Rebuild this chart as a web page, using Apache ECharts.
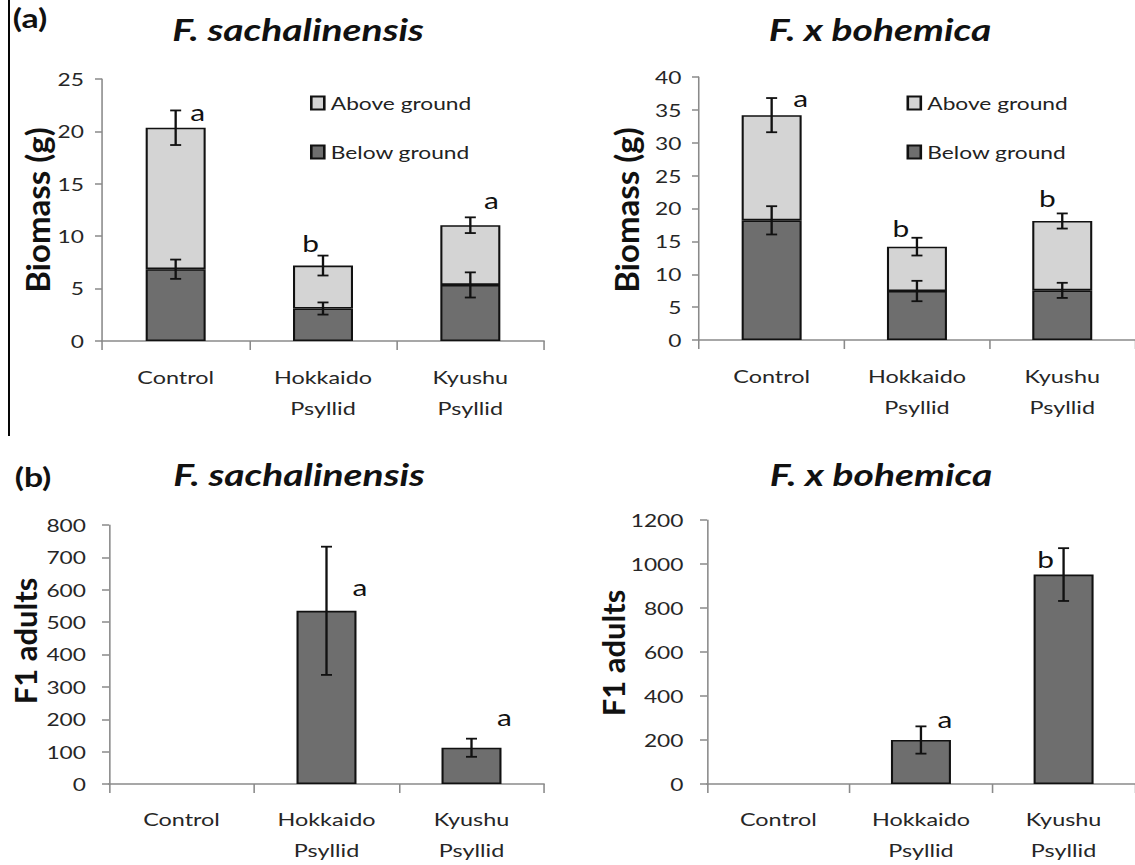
<!DOCTYPE html>
<html><head><meta charset="utf-8">
<script src="https://cdn.jsdelivr.net/npm/echarts@6/dist/echarts.min.js"></script>
<style>
html,body{margin:0;padding:0;background:#fff;overflow:hidden;width:1135px;height:865px}
#chart{width:873.077px;height:865px;transform:scaleX(1.3);transform-origin:0 0;}
</style>
</head><body><div id="chart"></div><script>
// ---------- data ----------
const categories = ['Control', 'Hokkaido\nPsyllid', 'Kyushu\nPsyllid'];
const legendNames = ['Above ground', 'Below ground'];
// (a) F. sachalinensis biomass (g)
const sachBelow = [6.85, 3.1, 5.35];
const sachBelowErr = [0.92, 0.58, 1.2];
const sachAbove = [13.5, 4.1, 5.7];
const sachAboveErr = [1.65, 0.95, 0.75];
const sachBiomassLetters = ['a', 'b', 'a'];
// (a) F. x bohemica biomass (g)
const bohBelow = [18.2, 7.45, 7.55];
const bohBelowErr = [2.15, 1.55, 1.15];
const bohAbove = [16.0, 6.75, 10.55];
const bohAboveErr = [2.6, 1.35, 1.15];
const bohBiomassLetters = ['a', 'b', 'b'];
// (b) F1 adults
const sachF1 = [null, 535, 112];
const sachF1Err = [null, 198, 28];
const sachF1Letters = [null, 'a', 'a'];
const bohF1 = [null, 200, 952];
const bohF1Err = [null, 62, 120];
const bohF1Letters = [null, 'a', 'b'];
// y axis scales [min, max, interval]
const sachBiomassScale = [0, 25, 5];
const bohBiomassScale = [0, 40, 5];
const sachF1Scale = [0, 800, 100];
const bohF1Scale = [0, 1200, 200];

// ---------- layout / style ----------
const S = 1.3;                 // horizontal stretch of the original figure
const sx = v => v / S;
const FONT = 'Lato';
const AXIS_GRAY = '#8a8a8a';
const TXT = '#262626';
const DARK = '#6e6e6e', LIGHT = '#d4d4d4', EDGE = '#111';
// letter offsets (screen px) relative to top of error bar
const offA1 = [[22, 2], [-12.5, -12], [21, -17]];
const offA2 = [[29, 0], [-16, -9], [-15, -15]];
const offB1 = [null, [33.5, 41], [33, -21]];
const offB2 = [null, [24, -7], [-18, 11]];

const sachTotal = sachBelow.map((b, i) => b + sachAbove[i]);
const bohTotal = bohBelow.map((b, i) => b + bohAbove[i]);

const grids = [
  { left: sx(102), width: sx(442), top: 79, height: 262 },
  { left: sx(699), width: sx(442), top: 77, height: 263 },
  { left: sx(109), width: sx(435), top: 525, height: 262 },
  { left: sx(707), width: sx(432), top: 520, height: 266 }
];

function xAxisCfg(gi, margin) {
  return {
    type: 'category', gridIndex: gi, data: categories, boundaryGap: true,
    axisLine: { lineStyle: { color: AXIS_GRAY, width: 1.5 } },
    axisTick: { show: true, alignWithLabel: false, length: 9, lineStyle: { color: AXIS_GRAY, width: 1.2 } },
    axisLabel: { interval: 0, margin: margin, fontFamily: FONT, fontSize: 18, lineHeight: 31, color: TXT }
  };
}
function yAxisCfg(gi, sc, margin) {
  return {
    type: 'value', gridIndex: gi, min: sc[0], max: sc[1], interval: sc[2],
    axisLine: { show: true, lineStyle: { color: AXIS_GRAY, width: 1.2 } },
    axisTick: { show: true, length: sx(7), lineStyle: { color: AXIS_GRAY, width: 1.5 } },
    splitLine: { show: false },
    axisLabel: { margin: sx(margin), fontFamily: FONT, fontSize: 17.5, color: TXT, formatter: v => String(v) }
  };
}
function barSeries(gi, name, data, color, stack) {
  return {
    type: 'bar', name: name, xAxisIndex: gi, yAxisIndex: gi, stack: stack, data: data,
    barWidth: sx(60), itemStyle: { color: color, borderColor: EDGE, borderWidth: 1.6 }
  };
}
function errSeries(gi, vals, errs, letters, offsets) {
  const data = [];
  vals.forEach((v, i) => { if (v != null && errs[i] != null) data.push([i, v, errs[i]]); });
  return {
    type: 'custom', xAxisIndex: gi, yAxisIndex: gi, z: 10, silent: true, data: data,
    encode: { x: 0, y: 1 },
    renderItem: function (params, api) {
      const i = api.value(0), v = api.value(1), e = api.value(2);
      const top = api.coord([i, v + e]);
      const bot = api.coord([i, v - e]);
      const cw = sx(5.5);
      const ls = { stroke: EDGE, lineWidth: 1.8 };
      const children = [
        { type: 'line', shape: { x1: top[0], y1: top[1], x2: bot[0], y2: bot[1] }, style: ls },
        { type: 'line', shape: { x1: top[0] - cw, y1: top[1], x2: top[0] + cw, y2: top[1] }, style: ls },
        { type: 'line', shape: { x1: bot[0] - cw, y1: bot[1], x2: bot[0] + cw, y2: bot[1] }, style: ls }
      ];
      if (letters && letters[i] && offsets && offsets[i]) {
        children.push({
          type: 'text', x: top[0] + sx(offsets[i][0]), y: top[1] + offsets[i][1],
          style: { text: letters[i], fontSize: 23, fontFamily: FONT, fill: '#111', align: 'center', verticalAlign: 'middle' }
        });
      }
      return { type: 'group', children: children };
    }
  };
}
function legendCfg(left) {
  return {
    orient: 'vertical', left: sx(left), top: 93, padding: 0,
    itemWidth: sx(13), itemHeight: 13, itemGap: 29,
    icon: 'rect', data: legendNames, selectedMode: false,
    textStyle: { fontFamily: FONT, fontSize: 17.5, lineHeight: 20, color: '#222' }
  };
}
function txt(x, y, text, size, extra) {
  return {
    type: 'text', x: sx(x), y: y,
    style: Object.assign({ text: text, fontSize: size, fontFamily: FONT, fontWeight: 'bold', fill: '#111', align: 'center', verticalAlign: 'middle' }, extra || {})
  };
}
function rotTxt(x, y, text, size) {
  const t = txt(x, y, text, size);
  t.rotation = Math.PI / 2;
  t.scaleY = 1 / S;
  return t;
}

const chart = echarts.init(document.getElementById('chart'), null, { renderer: 'svg' });
chart.setOption({
  animation: false,
  backgroundColor: '#fff',
  grid: grids,
  legend: [legendCfg(310), legendCfg(906.5)],
  xAxis: [xAxisCfg(0, 20), xAxisCfg(1, 20), xAxisCfg(2, 19), xAxisCfg(3, 19)],
  yAxis: [yAxisCfg(0, sachBiomassScale, 18), yAxisCfg(1, bohBiomassScale, 17.5), yAxisCfg(2, sachF1Scale, 23), yAxisCfg(3, bohF1Scale, 23.5)],
  series: [
    barSeries(0, 'Below ground', sachBelow, DARK, 's0'),
    barSeries(0, 'Above ground', sachAbove, LIGHT, 's0'),
    barSeries(1, 'Below ground', bohBelow, DARK, 's1'),
    barSeries(1, 'Above ground', bohAbove, LIGHT, 's1'),
    barSeries(2, 'F1 adults', sachF1, DARK, null),
    barSeries(3, 'F1 adults', bohF1, DARK, null),
    errSeries(0, sachBelow, sachBelowErr, null, null),
    errSeries(0, sachTotal, sachAboveErr, sachBiomassLetters, offA1),
    errSeries(1, bohBelow, bohBelowErr, null, null),
    errSeries(1, bohTotal, bohAboveErr, bohBiomassLetters, offA2),
    errSeries(2, sachF1, sachF1Err, sachF1Letters, offB1),
    errSeries(3, bohF1, bohF1Err, bohF1Letters, offB2)
  ],
  graphic: [
    { type: 'line', shape: { x1: sx(9), y1: 0, x2: sx(9), y2: 436 }, style: { stroke: '#000', lineWidth: 1.5 } },
    txt(30, 18, '(a)', 26),
    txt(33, 477, '(b)', 26),
    txt(298, 29, 'F. sachalinensis', 30, { fontStyle: 'italic' }),
    txt(880, 29, 'F. x bohemica', 30, { fontStyle: 'italic' }),
    txt(299, 474, 'F. sachalinensis', 30, { fontStyle: 'italic' }),
    txt(881, 474, 'F. x bohemica', 30, { fontStyle: 'italic' }),
    rotTxt(37.5, 210, 'Biomass (g)', 33),
    rotTxt(626.5, 210, 'Biomass (g)', 33),
    rotTxt(25, 641, 'F1 adults', 31),
    rotTxt(613, 653, 'F1 adults', 31)
  ]
});
</script></body></html>
